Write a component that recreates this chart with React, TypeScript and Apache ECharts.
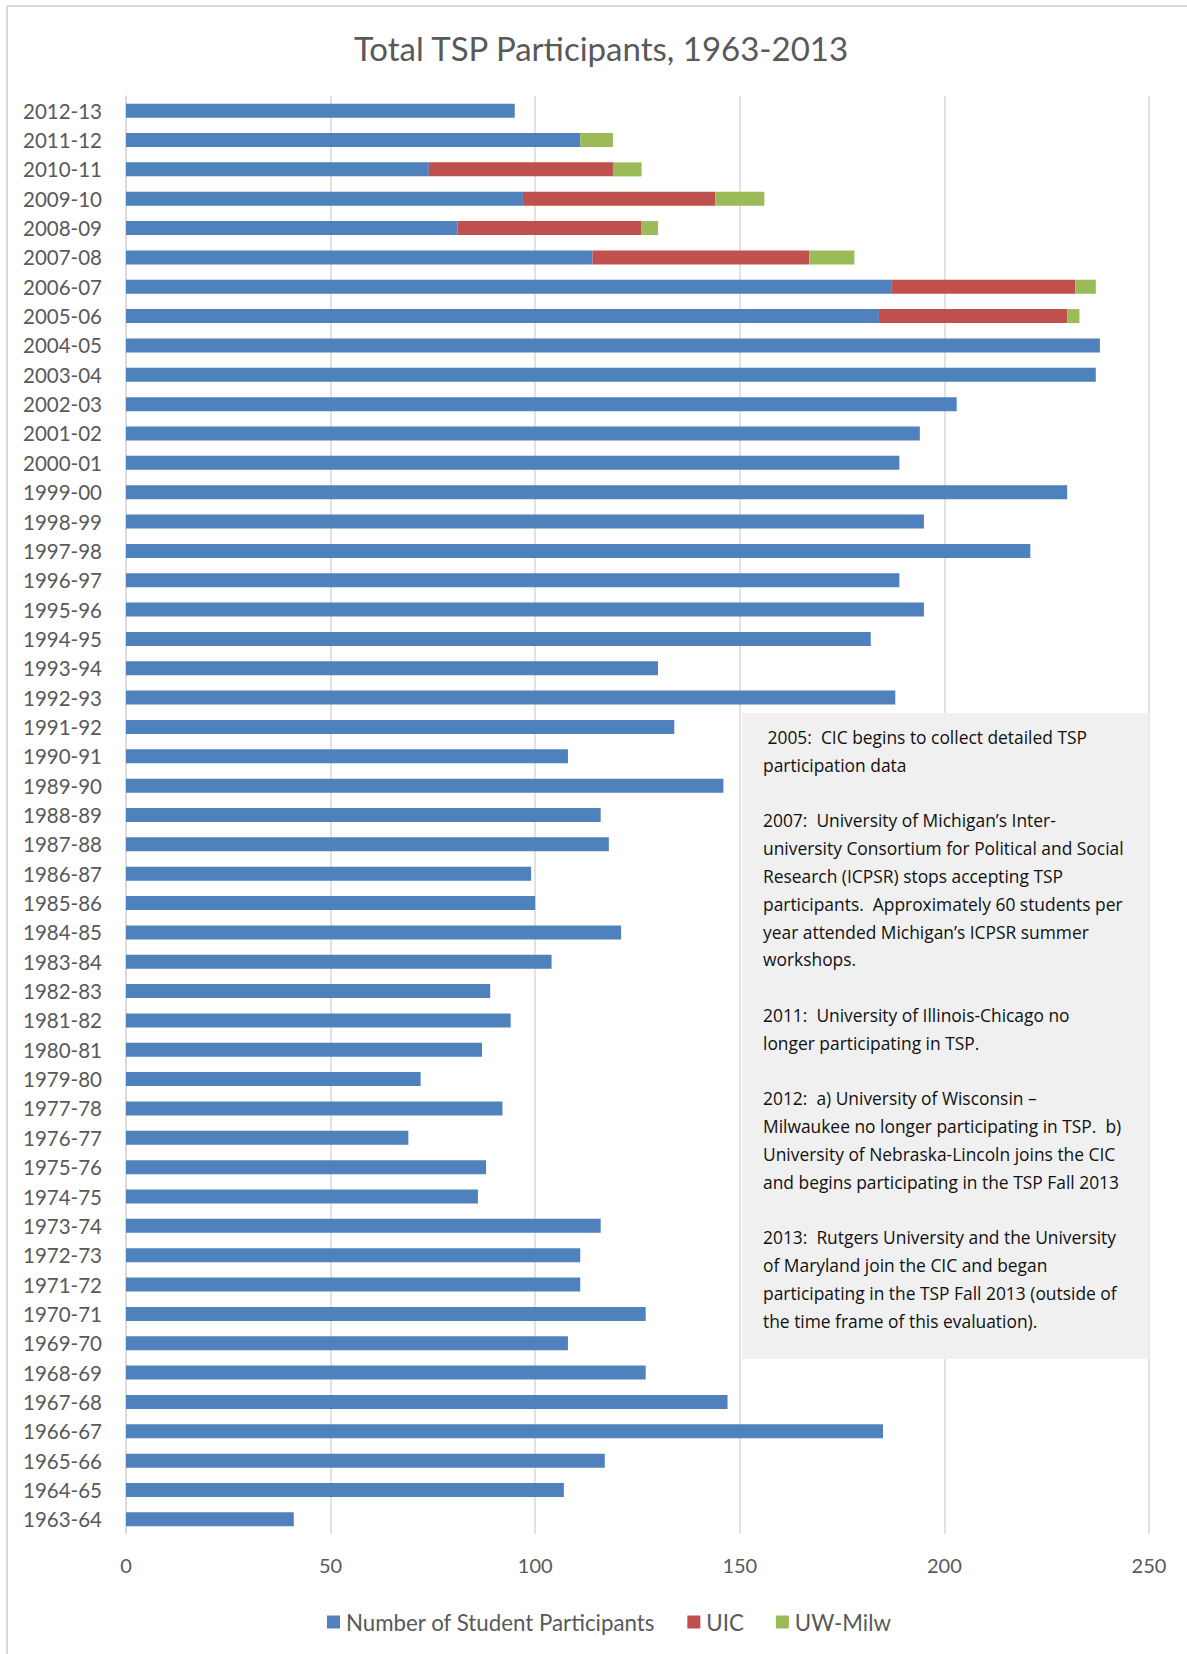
import React, { useEffect, useRef } from "react";
import * as echarts from "echarts";

const categories = [
  "2012-13", "2011-12", "2010-11", "2009-10", "2008-09", "2007-08", "2006-07", "2005-06",
  "2004-05", "2003-04", "2002-03", "2001-02", "2000-01", "1999-00", "1998-99", "1997-98",
  "1996-97", "1995-96", "1994-95", "1993-94", "1992-93", "1991-92", "1990-91", "1989-90",
  "1988-89", "1987-88", "1986-87", "1985-86", "1984-85", "1983-84", "1982-83", "1981-82",
  "1980-81", "1979-80", "1977-78", "1976-77", "1975-76", "1974-75", "1973-74", "1972-73",
  "1971-72", "1970-71", "1969-70", "1968-69", "1967-68", "1966-67", "1965-66", "1964-65",
  "1963-64",
];

const studentParticipants = [
  95, 111, 74, 97, 81, 114, 187, 184,
  238, 237, 203, 194, 189, 230, 195, 221,
  189, 195, 182, 130, 188, 134, 108, 146,
  116, 118, 99, 100, 121, 104, 89, 94,
  87, 72, 92, 69, 88, 86, 116, 111,
  111, 127, 108, 127, 147, 185, 117, 107,
  41,
];

const uic = [null, null, 45, 47, 45, 53, 45, 46];
const uwMilw = [null, 8, 7, 12, 4, 11, 5, 3];

const xTicks = { min: 0, max: 250, interval: 50 };

const titleText = "Total TSP Participants, 1963-2013";
const noteText = [
  " 2005:  CIC begins to collect detailed TSP",
  "participation data",
  "",
  "2007:  University of Michigan\u2019s Inter-",
  "university Consortium for Political and Social",
  "Research (ICPSR) stops accepting TSP",
  "participants.  Approximately 60 students per",
  "year attended Michigan\u2019s ICPSR summer",
  "workshops.",
  "",
  "2011:  University of Illinois-Chicago no",
  "longer participating in TSP.",
  "",
  "2012:  a) University of Wisconsin \u2013",
  "Milwaukee no longer participating in TSP.  b)",
  "University of Nebraska-Lincoln joins the CIC",
  "and begins participating in the TSP Fall 2013",
  "",
  "2013:  Rutgers University and the University",
  "of Maryland join the CIC and began",
  "participating in the TSP Fall 2013 (outside of",
  "the time frame of this evaluation).",
].join("\n");

const FONT = "Lato, 'Open Sans', sans-serif";
const NOTE_FONT = "'Open Sans', Lato, sans-serif";
const GREY_TEXT = "#595959";

export default function App() {
  const ref = useRef<HTMLDivElement>(null);

  useEffect(() => {
    if (!ref.current) return;
    const chart = echarts.init(ref.current, undefined, { renderer: "svg" });
    chart.setOption({
      animation: false,
      backgroundColor: "#ffffff",
      textStyle: { fontFamily: FONT },
      grid: { left: 126, right: 38, top: 96, bottom: 120, containLabel: false },
      xAxis: {
        type: "value",
        min: xTicks.min,
        max: xTicks.max,
        interval: xTicks.interval,
        axisLine: { show: false },
        axisTick: { show: false },
        axisLabel: { color: GREY_TEXT, fontSize: 20, fontFamily: FONT, margin: 21 },
        splitLine: { show: true, lineStyle: { color: "#d9d9d9", width: 1.5 } },
      },
      yAxis: {
        type: "category",
        data: categories,
        inverse: true,
        axisLine: { show: true, lineStyle: { color: "#d9d9d9", width: 1.5 } },
        axisTick: { show: false },
        axisLabel: { color: GREY_TEXT, fontSize: 20.5, fontFamily: FONT, margin: 24 },
      },
      legend: {
        left: 327,
        top: 1611,
        padding: 0,
        itemWidth: 13,
        itemHeight: 13,
        itemGap: 32,
        icon: "rect",
        textStyle: { color: GREY_TEXT, fontSize: 22.3, fontFamily: FONT, padding: [0, 0, 0, 1] },
        data: ["Number of Student Participants", "UIC", "UW-Milw"],
      },
      series: [
        {
          name: "Number of Student Participants",
          type: "bar",
          stack: "total",
          barWidth: 14,
          itemStyle: { color: "#4F81BD" },
          data: studentParticipants,
        },
        {
          name: "UIC",
          type: "bar",
          stack: "total",
          barWidth: 14,
          itemStyle: { color: "#C0504D" },
          data: uic,
        },
        {
          name: "UW-Milw",
          type: "bar",
          stack: "total",
          barWidth: 14,
          itemStyle: { color: "#9BBB59" },
          data: uwMilw,
        },
      ],
      graphic: [
        {
          type: "rect",
          z: -10,
          silent: true,
          shape: { x: 7, y: 6, width: 1200, height: 1700 },
          style: { fill: "none", stroke: "#d9d9d9", lineWidth: 2 },
        },
        {
          type: "text",
          z: 100,
          x: 601,
          y: 48,
          style: {
            text: titleText,
            fill: GREY_TEXT,
            font: "33px " + FONT,
            textAlign: "center",
            textVerticalAlign: "middle",
          },
        },
        {
          type: "rect",
          z: 100,
          shape: { x: 742, y: 713, width: 407, height: 646 },
          style: { fill: "#f0f0f0" },
        },
        {
          type: "text",
          z: 101,
          x: 763,
          y: 723,
          style: {
            text: noteText,
            fill: "#111111",
            font: "17.4px " + NOTE_FONT,
            lineHeight: 27.8,
            textAlign: "left",
            textVerticalAlign: "top",
          },
        },
      ],
    });
    return () => chart.dispose();
  }, []);

  return (
    <div
      ref={ref}
      style={{ position: "absolute", left: 0, top: 0, width: 1187, height: 1654 }}
    />
  );
}
